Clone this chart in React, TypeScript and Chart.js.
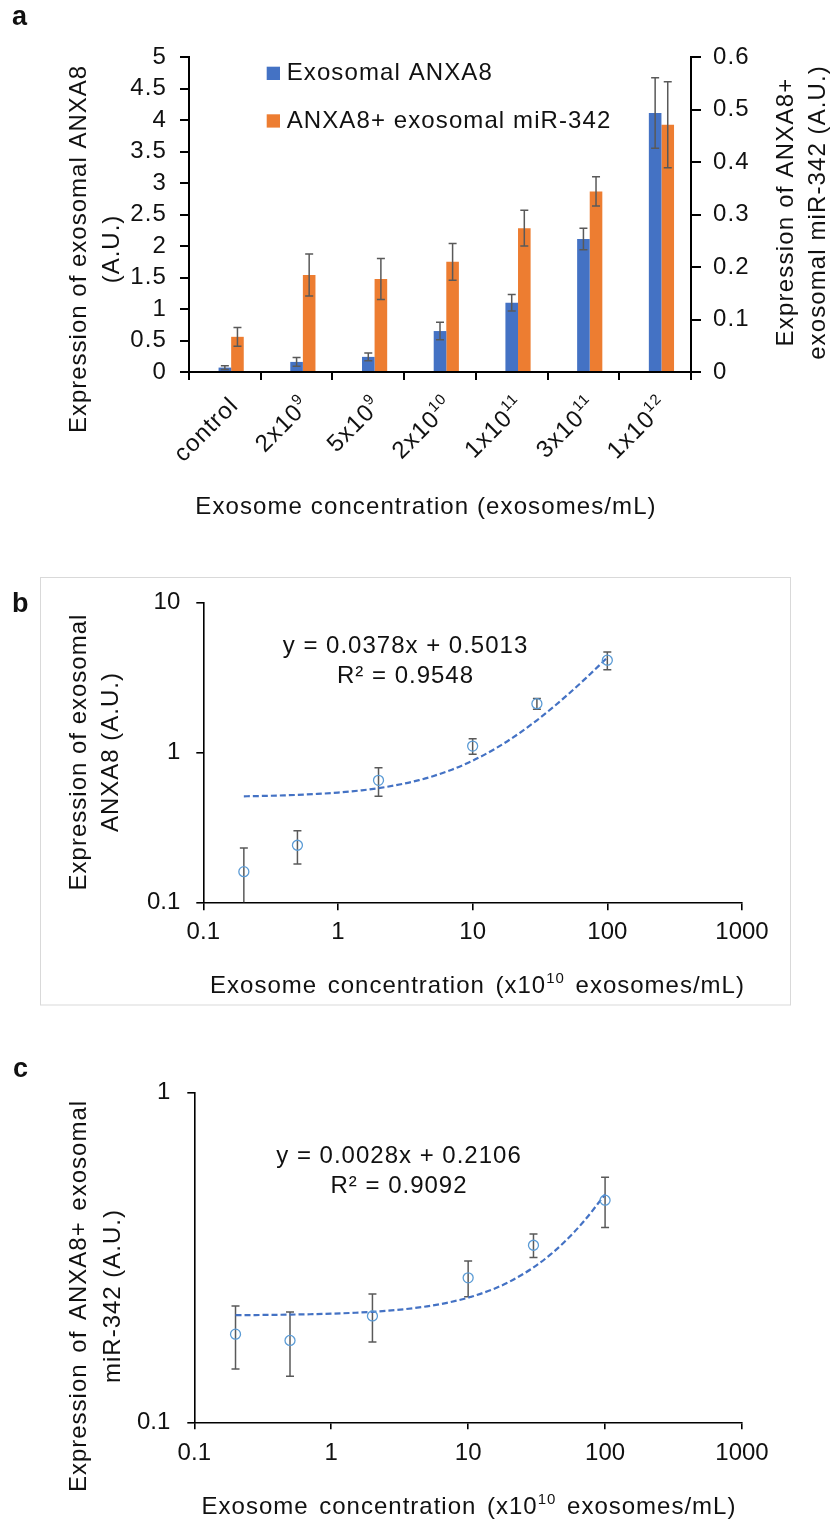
import React, { useEffect, useRef } from 'react';
import { Chart, registerables } from 'chart.js';

Chart.register(...registerables);

// ---------------- data ----------------
const categoryBase = ['control', '2x10', '5x10', '2x10', '1x10', '3x10', '1x10'];
const categoryExp = ['', '9', '9', '10', '11', '11', '12'];
const anxa8Mean = [0.07, 0.16, 0.24, 0.65, 1.1, 2.11, 4.11];
const anxa8Err = [0.03, 0.07, 0.06, 0.14, 0.13, 0.17, 0.56];
const mirMean = [0.067, 0.185, 0.177, 0.21, 0.274, 0.344, 0.471];
const mirErr = [0.018, 0.04, 0.039, 0.035, 0.034, 0.028, 0.082];
// concentrations (x10^10 exosomes/mL) of the non-control categories
const concX = [0.2, 0.5, 2, 10, 30, 100];

const leftAxisMax = 5;
const leftAxisStep = 0.5;
const rightAxisMax = 0.6;
const rightAxisStep = 0.1;

const logXTicks = [0.1, 1, 10, 100, 1000];
const logYTicksB = [0.1, 1, 10];
const logYTicksC = [0.1, 1];

const fitB = { slope: 0.0378, intercept: 0.5013, r2: 0.9548 };
const fitC = { slope: 0.0028, intercept: 0.2106, r2: 0.9092 };
// x positions at which the fitted line (from the printed equation) is evaluated
const trendSampleX = [0.2, 0.25, 0.3, 0.4, 0.5, 0.7, 1, 1.5, 2, 3, 4, 5, 7, 10, 15, 20, 30, 40, 50, 70, 100];

// ---------------- styles ----------------
const FONT = "'Liberation Sans', Arial, Helvetica, sans-serif";
const TEXT = '#111111';
const BLUE = '#4472C4';
const ORANGE = '#ED7D31';
const ERR = '#595959';
const MARKER = '#5B9BD5';

type Seg = { t: string; sup?: boolean };
type TOpt = {
  size: number;
  bold?: boolean;
  ls?: number;
  ws?: number;
  align?: 'left' | 'center' | 'right';
  rot?: number;
};

function drawRich(ctx: CanvasRenderingContext2D, segs: Seg[], x: number, y: number, o: TOpt) {
  const c = ctx as any;
  ctx.save();
  ctx.translate(x, y);
  if (o.rot) ctx.rotate(o.rot);
  ctx.fillStyle = TEXT;
  ctx.textBaseline = 'middle';
  ctx.textAlign = 'left';
  const ls = o.ls ?? 0;
  const ws = o.ws ?? 0;
  const fontOf = (s: Seg) =>
    `${o.bold ? 'bold ' : ''}${s.sup ? Math.round(o.size * 0.62) : o.size}px ${FONT}`;
  const widths = segs.map((s) => {
    ctx.font = fontOf(s);
    c.letterSpacing = '0px';
    c.wordSpacing = '0px';
    return ctx.measureText(s.t).width + ls * s.t.length + ws * (s.t.split(' ').length - 1);
  });
  const total = widths.reduce((a, b) => a + b, 0);
  let cx = o.align === 'left' ? 0 : o.align === 'right' ? -total : -total / 2;
  segs.forEach((s, i) => {
    ctx.font = fontOf(s);
    c.letterSpacing = `${ls}px`;
    c.wordSpacing = `${ws}px`;
    ctx.fillText(s.t, cx, s.sup ? -o.size * 0.33 : 0);
    cx += widths[i];
  });
  ctx.restore();
}

function fixedSize(size: { w?: number; h?: number }) {
  return (s: any) => {
    if (size.w !== undefined) s.width = size.w;
    if (size.h !== undefined) s.height = size.h;
    s.paddingLeft = 0;
    s.paddingRight = 0;
    s.paddingTop = 0;
    s.paddingBottom = 0;
  };
}

const numLabel = (v: any) => String(parseFloat(Number(v).toFixed(3)));

function errorBar(ctx: CanvasRenderingContext2D, x: number, yTop: number, yBot: number, cap: number) {
  ctx.beginPath();
  ctx.moveTo(x, yTop);
  ctx.lineTo(x, yBot);
  ctx.moveTo(x - cap, yTop);
  ctx.lineTo(x + cap, yTop);
  ctx.moveTo(x - cap, yBot);
  ctx.lineTo(x + cap, yBot);
  ctx.stroke();
}

// ---------------- panel a ----------------
function makeBarChart(canvas: HTMLCanvasElement) {
  const labels = categoryBase.map((b, i) => (categoryExp[i] ? `${b}^${categoryExp[i]}` : b));
  const tickFont = { family: FONT, size: 24 };

  const errPlugin = {
    id: 'barErrors',
    afterDatasetsDraw(chart: any) {
      const ctx: CanvasRenderingContext2D = chart.ctx;
      const sets = [
        { idx: 1, mean: anxa8Mean, err: anxa8Err, axis: 'y' },
        { idx: 2, mean: mirMean, err: mirErr, axis: 'y2' },
      ];
      ctx.save();
      ctx.strokeStyle = ERR;
      ctx.lineWidth = 1.5;
      sets.forEach((s) => {
        const meta = chart.getDatasetMeta(s.idx);
        const sc = chart.scales[s.axis];
        meta.data.forEach((bar: any, j: number) => {
          const top = sc.getPixelForValue(s.mean[j] + s.err[j]);
          const bot = sc.getPixelForValue(Math.max(0, s.mean[j] - s.err[j]));
          errorBar(ctx, bar.x, top, bot, 4);
        });
      });
      ctx.restore();
    },
  };

  const textPlugin = {
    id: 'textA',
    beforeDraw(chart: any) {
      (chart.ctx as any).letterSpacing = '1.1px';
    },
    afterDraw(chart: any) {
      const ctx: CanvasRenderingContext2D = chart.ctx;
      const area = chart.chartArea;
      const xs = chart.scales.x;
      drawRich(ctx, [{ t: 'a' }], 12, 18, { size: 27, bold: true, align: 'left' });

      // legend
      ctx.save();
      ctx.fillStyle = BLUE;
      ctx.fillRect(266.7, 66.7, 13.3, 13.3);
      ctx.fillStyle = ORANGE;
      ctx.fillRect(266.7, 114.3, 13.3, 13.3);
      ctx.restore();
      drawRich(ctx, [{ t: chart.data.datasets[1].label }], 286.7, 73.5, { size: 24, ls: 1.1, align: 'left' });
      drawRich(ctx, [{ t: chart.data.datasets[2].label }], 286.7, 121, { size: 24, ls: 1.1, align: 'left' });

      // axis titles
      const rot = -Math.PI / 2;
      drawRich(ctx, [{ t: 'Expression of exosomal ANXA8' }], 79, 249, { size: 24, ls: 1.0, rot });
      drawRich(ctx, [{ t: '(A.U.)' }], 112.7, 249, { size: 24, ls: 1.0, rot });
      drawRich(ctx, [{ t: 'Expression of ANXA8+' }], 786.7, 212, { size: 24, ls: 1.2, rot });
      drawRich(ctx, [{ t: 'exosomal miR-342 (A.U.)' }], 818.3, 212.5, { size: 24, ls: 1.1, rot });
      drawRich(ctx, [{ t: 'Exosome concentration (exosomes/mL)' }], 426, 507, { size: 24, ls: 1.1 });

      // rotated category labels
      categoryBase.forEach((b, i) => {
        const px = xs.getPixelForValue(i);
        const segs: Seg[] = [{ t: b }];
        if (categoryExp[i]) segs.push({ t: categoryExp[i], sup: true });
        drawRich(ctx, segs, px + 10, area.bottom + 30, { size: 24, ls: 1.1, align: 'right', rot: -Math.PI / 4 });
      });
    },
  };

  return new Chart(canvas, {
    type: 'bar',
    data: {
      labels,
      datasets: [
        {
          label: '',
          data: labels.map(() => null),
          yAxisID: 'y',
          backgroundColor: 'rgba(0,0,0,0)',
          categoryPercentage: 0.527,
          barPercentage: 1,
        },
        {
          label: 'Exosomal ANXA8',
          data: anxa8Mean,
          yAxisID: 'y',
          backgroundColor: BLUE,
          categoryPercentage: 0.527,
          barPercentage: 1,
        },
        {
          label: 'ANXA8+ exosomal miR-342',
          data: mirMean,
          yAxisID: 'y2',
          backgroundColor: ORANGE,
          categoryPercentage: 0.527,
          barPercentage: 1,
        },
      ],
    } as any,
    options: {
      animation: false,
      responsive: false,
      devicePixelRatio: 1,
      layout: { padding: { top: 57, left: 0, right: 0, bottom: 0 } },
      plugins: { legend: { display: false }, tooltip: { enabled: false } },
      scales: {
        x: {
          type: 'category',
          offset: true,
          ticks: { display: false },
          grid: { offset: true, drawOnChartArea: false, color: '#000', lineWidth: 2, tickLength: 8 },
          border: { display: true, color: '#000', width: 2 },
          afterFit: fixedSize({ h: 168 }),
        },
        y: {
          position: 'left',
          min: 0,
          max: leftAxisMax,
          ticks: {
            stepSize: leftAxisStep,
            autoSkip: false,
            padding: 13,
            font: tickFont,
            color: TEXT,
            callback: numLabel,
          },
          grid: { drawOnChartArea: false, color: '#000', lineWidth: 2, tickLength: 9 },
          border: { display: true, color: '#000', width: 2 },
          afterFit: fixedSize({ w: 189 }),
        },
        y2: {
          position: 'right',
          min: 0,
          max: rightAxisMax,
          ticks: {
            stepSize: rightAxisStep,
            autoSkip: false,
            padding: 12,
            font: tickFont,
            color: TEXT,
            callback: numLabel,
          },
          grid: { drawOnChartArea: false, color: '#000', lineWidth: 2, tickLength: 10 },
          border: { display: true, color: '#000', width: 2 },
          afterFit: fixedSize({ w: 143 }),
        },
      },
    } as any,
    plugins: [errPlugin, textPlugin],
  });
}

// ---------------- panels b & c ----------------
type LogCfg = {
  means: number[];
  errs: number[];
  fit: { slope: number; intercept: number; r2: number };
  yMax: number;
  yTicks: number[];
  yWidth: number;
  xHeight: number;
  yTickLen: number;
  xTickLen: number;
  yLabelPad: number;
  xLabelPad: number;
  letter: string;
  letterPos: [number, number];
  yTitle: [string, string];
  yTitleX: [number, number];
  yTitleY: number;
  yTitleWS: number;
  eqPos: [number, number, number];
  xTitlePos: [number, number];
  box?: [number, number, number, number];
};

function makeLogChart(canvas: HTMLCanvasElement, cfg: LogCfg) {
  const tickFont = { family: FONT, size: 24 };
  const ptsY = cfg.means.slice(1);
  const ptsErr = cfg.errs.slice(1);

  const errPlugin = {
    id: 'ptErrors',
    beforeDatasetsDraw(chart: any) {
      const ctx: CanvasRenderingContext2D = chart.ctx;
      const area = chart.chartArea;
      const ys = chart.scales.y;
      const meta = chart.getDatasetMeta(1);
      ctx.save();
      ctx.beginPath();
      ctx.rect(area.left, area.top - 20, area.right - area.left, area.bottom - area.top + 20);
      ctx.clip();
      ctx.strokeStyle = ERR;
      ctx.lineWidth = 1.5;
      meta.data.forEach((pt: any, j: number) => {
        const top = ys.getPixelForValue(ptsY[j] + ptsErr[j]);
        const bot = ys.getPixelForValue(ptsY[j] - ptsErr[j]);
        errorBar(ctx, pt.x, top, bot, 4);
      });
      ctx.restore();
    },
  };

  const textPlugin = {
    id: 'textLog',
    beforeDraw(chart: any) {
      if (!cfg.box) return;
      const ctx: CanvasRenderingContext2D = chart.ctx;
      ctx.save();
      ctx.strokeStyle = '#d9d9d9';
      ctx.lineWidth = 1;
      ctx.strokeRect(cfg.box[0], cfg.box[1], cfg.box[2], cfg.box[3]);
      ctx.restore();
    },
    afterDraw(chart: any) {
      const ctx: CanvasRenderingContext2D = chart.ctx;
      const rot = -Math.PI / 2;
      drawRich(ctx, [{ t: cfg.letter }], cfg.letterPos[0], cfg.letterPos[1], { size: 27, bold: true, align: 'left' });
      drawRich(ctx, [{ t: cfg.yTitle[0] }], cfg.yTitleX[0], cfg.yTitleY, { size: 24, ls: 1, ws: cfg.yTitleWS, rot });
      drawRich(ctx, [{ t: cfg.yTitle[1] }], cfg.yTitleX[1], cfg.yTitleY, { size: 24, ls: 1, rot });
      drawRich(ctx, [{ t: `y = ${cfg.fit.slope}x + ${cfg.fit.intercept}` }], cfg.eqPos[0], cfg.eqPos[1], { size: 24, ls: 1 });
      drawRich(ctx, [{ t: `R² = ${cfg.fit.r2}` }], cfg.eqPos[0], cfg.eqPos[2], { size: 24, ls: 1 });
      drawRich(
        ctx,
        [{ t: 'Exosome concentration (x10' }, { t: '10', sup: true }, { t: ' exosomes/mL)' }],
        cfg.xTitlePos[0],
        cfg.xTitlePos[1],
        { size: 24, ls: 1, ws: 3 }
      );
    },
  };

  return new Chart(canvas, {
    type: 'scatter',
    data: {
      datasets: [
        {
          type: 'line',
          label: 'trend',
          data: trendSampleX.map((x) => ({ x, y: cfg.fit.slope * x + cfg.fit.intercept })),
          borderColor: BLUE,
          borderWidth: 2.2,
          borderDash: [6, 3],
          pointRadius: 0,
          fill: false,
          cubicInterpolationMode: 'monotone',
          order: 1,
        },
        {
          label: 'points',
          data: concX.map((x, i) => ({ x, y: ptsY[i] })),
          pointStyle: 'circle',
          pointRadius: 5,
          borderColor: MARKER,
          backgroundColor: 'rgba(0,0,0,0)',
          borderWidth: 1.3,
          showLine: false,
          order: 0,
        },
      ],
    } as any,
    options: {
      animation: false,
      responsive: false,
      devicePixelRatio: 1,
      layout: { padding: { top: 62.3, left: 0, right: 92, bottom: 0 } },
      plugins: { legend: { display: false }, tooltip: { enabled: false } },
      scales: {
        x: {
          type: 'logarithmic',
          min: 0.1,
          max: 1000,
          afterBuildTicks: (s: any) => {
            s.ticks = logXTicks.map((v) => ({ value: v }));
          },
          ticks: {
            font: tickFont,
            color: TEXT,
            padding: cfg.xLabelPad,
            autoSkip: false,
            maxRotation: 0,
            minRotation: 0,
            callback: (v: any) => String(v),
          },
          grid: { drawOnChartArea: false, color: '#000', lineWidth: 1.6, tickLength: cfg.xTickLen },
          border: { display: true, color: '#000', width: 1.6 },
          afterFit: fixedSize({ h: cfg.xHeight }),
        },
        y: {
          type: 'logarithmic',
          min: 0.1,
          max: cfg.yMax,
          afterBuildTicks: (s: any) => {
            s.ticks = cfg.yTicks.map((v) => ({ value: v }));
          },
          ticks: {
            font: tickFont,
            color: TEXT,
            padding: cfg.yLabelPad,
            autoSkip: false,
            callback: (v: any) => String(v),
          },
          grid: { drawOnChartArea: false, color: '#000', lineWidth: 1.6, tickLength: cfg.yTickLen },
          border: { display: true, color: '#000', width: 1.6 },
          afterFit: fixedSize({ w: cfg.yWidth }),
        },
      },
    } as any,
    plugins: [errPlugin, textPlugin],
  });
}

export default function App() {
  const refA = useRef<HTMLCanvasElement>(null);
  const refB = useRef<HTMLCanvasElement>(null);
  const refC = useRef<HTMLCanvasElement>(null);

  useEffect(() => {
    const charts: Chart[] = [];
    if (refA.current) charts.push(makeBarChart(refA.current));
    if (refB.current)
      charts.push(
        makeLogChart(refB.current, {
          means: anxa8Mean,
          errs: anxa8Err,
          fit: fitB,
          yMax: 10,
          yTicks: logYTicksB,
          yWidth: 203.3,
          xHeight: 127.7,
          yTickLen: 7,
          xTickLen: 8,
          yLabelPad: 16,
          xLabelPad: 8,
          letter: 'b',
          letterPos: [12, 65],
          yTitle: ['Expression of exosomal', 'ANXA8 (A.U.)'],
          yTitleX: [79, 111.7],
          yTitleY: 212,
          yTitleWS: 0,
          eqPos: [405.5, 106, 136.7],
          xTitlePos: [477.5, 446.7],
          box: [40.5, 37.5, 750, 427.5],
        })
      );
    if (refC.current)
      charts.push(
        makeLogChart(refC.current, {
          means: mirMean,
          errs: mirErr,
          fit: fitC,
          yMax: 1,
          yTicks: logYTicksC,
          yWidth: 194.3,
          xHeight: 98.7,
          yTickLen: 7,
          xTickLen: 7,
          yLabelPad: 17,
          xLabelPad: 10,
          letter: 'c',
          letterPos: [13, 40],
          yTitle: ['Expression of ANXA8+ exosomal', 'miR-342 (A.U.)'],
          yTitleX: [79, 113.3],
          yTitleY: 266,
          yTitleWS: 3,
          eqPos: [399, 126, 156],
          xTitlePos: [469, 477.3],
        })
      );
    return () => charts.forEach((c) => c.destroy());
  }, []);

  return (
    <div
      style={{
        position: 'absolute',
        left: 0,
        top: 0,
        width: 834,
        height: 1521,
        background: '#ffffff',
        overflow: 'hidden',
      }}
    >
      <canvas
        ref={refA}
        width={834}
        height={540}
        style={{ position: 'absolute', left: 0, top: 0, width: 834, height: 540 }}
      />
      <canvas
        ref={refB}
        width={834}
        height={490}
        style={{ position: 'absolute', left: 0, top: 540, width: 834, height: 490 }}
      />
      <canvas
        ref={refC}
        width={834}
        height={491}
        style={{ position: 'absolute', left: 0, top: 1030, width: 834, height: 491 }}
      />
    </div>
  );
}
